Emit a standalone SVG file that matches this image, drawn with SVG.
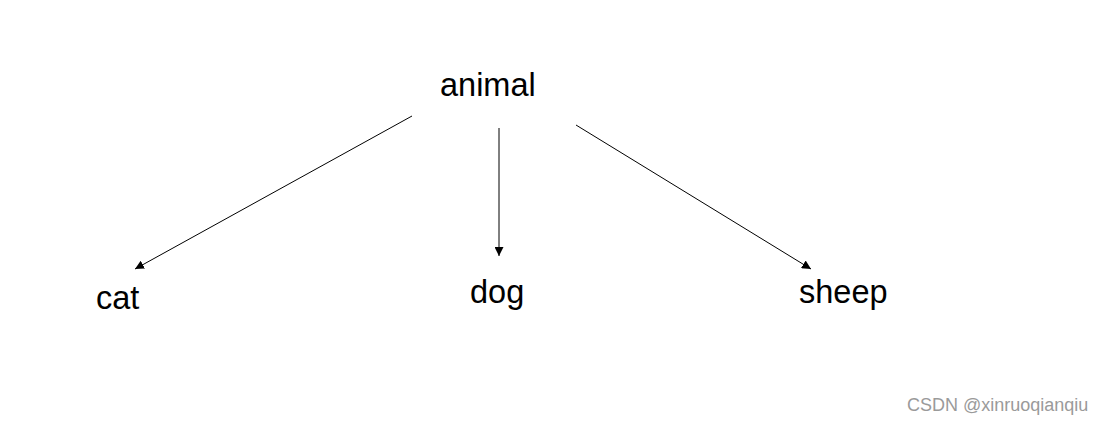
<svg xmlns="http://www.w3.org/2000/svg" width="1101" height="424" viewBox="0 0 1101 424">
<defs>
<marker id="ah" viewBox="0 0 10 10" refX="10" refY="5" markerWidth="9" markerHeight="9" markerUnits="userSpaceOnUse" orient="auto">
<path d="M0,0 L10,5 L0,10 z" fill="#000"/>
</marker>
</defs>
<style>
.lbl{font-family:"Liberation Sans",Arial,sans-serif;font-size:32.5px;fill:#000}
.edge{stroke:#000;stroke-width:1;fill:none;marker-end:url(#ah)}
.wm{font-family:"Liberation Sans",Arial,sans-serif;font-size:18px;fill:#9a9a9a}
</style>
<rect width="1101" height="424" fill="#fff"/>
<g id="connectors">
<line class="edge" x1="412" y1="116" x2="135" y2="269"/>
<line class="edge" x1="499" y1="128" x2="499" y2="256"/>
<line class="edge" x1="576" y1="125" x2="811" y2="269"/>
</g>
<g id="animal"><text class="lbl" x="440" y="96">animal</text></g>
<g id="cat"><text class="lbl" x="96" y="309">cat</text></g>
<g id="dog"><text class="lbl" x="470" y="303">dog</text></g>
<g id="sheep"><text class="lbl" x="799" y="303">sheep</text></g>
<text class="wm" x="907" y="411">CSDN @xinruoqianqiu</text>
</svg>
